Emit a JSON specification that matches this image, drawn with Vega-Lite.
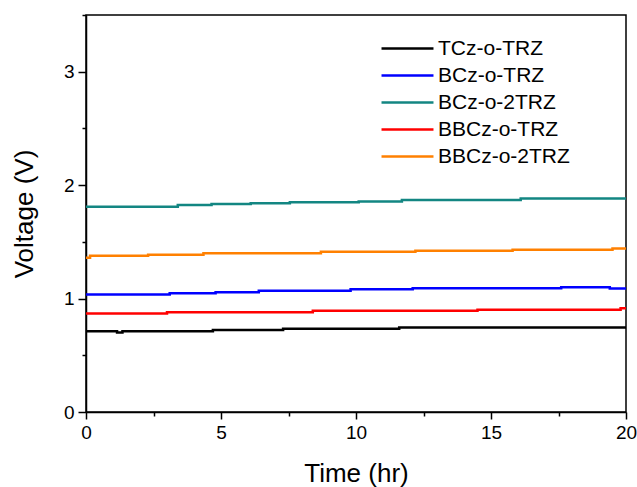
{
  "$schema": "https://vega.github.io/schema/vega-lite/v6.json",
  "width": 540,
  "height": 397,
  "autosize": "none",
  "padding": {"left": 86, "top": 15, "right": 11, "bottom": 75},
  "background": "white",
  "config": {
    "font": "Liberation Sans",
    "view": {"stroke": "black", "strokeWidth": 1.5},
    "axis": {
      "domainColor": "black",
      "domainWidth": 1.5,
      "tickColor": "black",
      "tickWidth": 1.5,
      "labelColor": "black",
      "labelFont": "Liberation Sans",
      "labelFontSize": 19,
      "titleFont": "Liberation Sans",
      "titleFontSize": 26,
      "titleFontWeight": "normal",
      "titleColor": "black",
      "grid": false
    }
  },
  "data": {
    "values": [
      {"series": "TCz-o-TRZ", "t": 0, "v": 0.712},
      {"series": "TCz-o-TRZ", "t": 1.0, "v": 0.712},
      {"series": "TCz-o-TRZ", "t": 1.15, "v": 0.700},
      {"series": "TCz-o-TRZ", "t": 1.35, "v": 0.712},
      {"series": "TCz-o-TRZ", "t": 4.7, "v": 0.724},
      {"series": "TCz-o-TRZ", "t": 7.3, "v": 0.735},
      {"series": "TCz-o-TRZ", "t": 11.6, "v": 0.745},
      {"series": "TCz-o-TRZ", "t": 20, "v": 0.745},

      {"series": "BCz-o-TRZ", "t": 0, "v": 1.036},
      {"series": "BCz-o-TRZ", "t": 3.1, "v": 1.048},
      {"series": "BCz-o-TRZ", "t": 4.8, "v": 1.056},
      {"series": "BCz-o-TRZ", "t": 6.4, "v": 1.069},
      {"series": "BCz-o-TRZ", "t": 9.8, "v": 1.083},
      {"series": "BCz-o-TRZ", "t": 12.1, "v": 1.092},
      {"series": "BCz-o-TRZ", "t": 17.6, "v": 1.100},
      {"series": "BCz-o-TRZ", "t": 19.4, "v": 1.089},
      {"series": "BCz-o-TRZ", "t": 20, "v": 1.089},

      {"series": "BCz-o-2TRZ", "t": 0, "v": 1.810},
      {"series": "BCz-o-2TRZ", "t": 3.4, "v": 1.824},
      {"series": "BCz-o-2TRZ", "t": 4.65, "v": 1.833},
      {"series": "BCz-o-2TRZ", "t": 6.1, "v": 1.841},
      {"series": "BCz-o-2TRZ", "t": 7.55, "v": 1.850},
      {"series": "BCz-o-2TRZ", "t": 10.1, "v": 1.856},
      {"series": "BCz-o-2TRZ", "t": 11.7, "v": 1.868},
      {"series": "BCz-o-2TRZ", "t": 16.1, "v": 1.883},
      {"series": "BCz-o-2TRZ", "t": 20, "v": 1.883},

      {"series": "BBCz-o-TRZ", "t": 0, "v": 0.868},
      {"series": "BBCz-o-TRZ", "t": 3.0, "v": 0.880},
      {"series": "BBCz-o-TRZ", "t": 8.4, "v": 0.892},
      {"series": "BBCz-o-TRZ", "t": 14.5, "v": 0.901},
      {"series": "BBCz-o-TRZ", "t": 19.8, "v": 0.915},
      {"series": "BBCz-o-TRZ", "t": 20, "v": 0.915},

      {"series": "BBCz-o-2TRZ", "t": 0, "v": 1.360},
      {"series": "BBCz-o-2TRZ", "t": 0.15, "v": 1.377},
      {"series": "BBCz-o-2TRZ", "t": 2.3, "v": 1.386},
      {"series": "BBCz-o-2TRZ", "t": 4.35, "v": 1.400},
      {"series": "BBCz-o-2TRZ", "t": 8.7, "v": 1.413},
      {"series": "BBCz-o-2TRZ", "t": 12.2, "v": 1.421},
      {"series": "BBCz-o-2TRZ", "t": 15.8, "v": 1.430},
      {"series": "BBCz-o-2TRZ", "t": 19.5, "v": 1.442},
      {"series": "BBCz-o-2TRZ", "t": 20, "v": 1.442}
    ]
  },
  "mark": {"type": "line", "interpolate": "step-after", "strokeWidth": 2.5, "clip": true},
  "encoding": {
    "x": {
      "field": "t",
      "type": "quantitative",
      "scale": {"domain": [0, 20], "nice": false, "zero": false},
      "axis": {
        "title": "Time (hr)",
        "values": [0, 2.5, 5, 7.5, 10, 12.5, 15, 17.5, 20],
        "labelExpr": "datum.value % 5 === 0 ? format(datum.value, 'd') : ''",
        "tickSize": {"condition": {"test": "datum.value % 5 === 0", "value": 7}, "value": 4},
        "labelPadding": 4,
        "titlePadding": 18,
        "labelFlush": false
      }
    },
    "y": {
      "field": "v",
      "type": "quantitative",
      "scale": {"domain": [0, 3.5], "nice": false},
      "axis": {
        "title": "Voltage (V)",
        "values": [0, 0.5, 1, 1.5, 2, 2.5, 3, 3.5],
        "labelExpr": "datum.value % 1 === 0 ? format(datum.value, 'd') : ''",
        "tickSize": {"condition": {"test": "datum.value % 1 === 0", "value": 8}, "value": 4},
        "labelPadding": 4,
        "titlePadding": 26,
        "labelFlush": false
      }
    },
    "color": {
      "field": "series",
      "type": "nominal",
      "sort": ["TCz-o-TRZ", "BCz-o-TRZ", "BCz-o-2TRZ", "BBCz-o-TRZ", "BBCz-o-2TRZ"],
      "scale": {
        "domain": ["TCz-o-TRZ", "BCz-o-TRZ", "BCz-o-2TRZ", "BBCz-o-TRZ", "BBCz-o-2TRZ"],
        "range": ["#000000", "#0000ff", "#138682", "#ff0000", "#ff8000"]
      },
      "legend": {
        "title": null,
        "orient": "none",
        "legendX": 294,
        "legendY": 20,
        "padding": 0,
        "symbolType": "stroke",
        "symbolSize": 2700,
        "symbolStrokeWidth": 2.5,
        "labelFontSize": 21,
        "labelColor": "black",
        "labelFont": "Liberation Sans",
        "labelOffset": 3,
        "clipHeight": 27,
        "rowPadding": 0
      }
    }
  }
}
